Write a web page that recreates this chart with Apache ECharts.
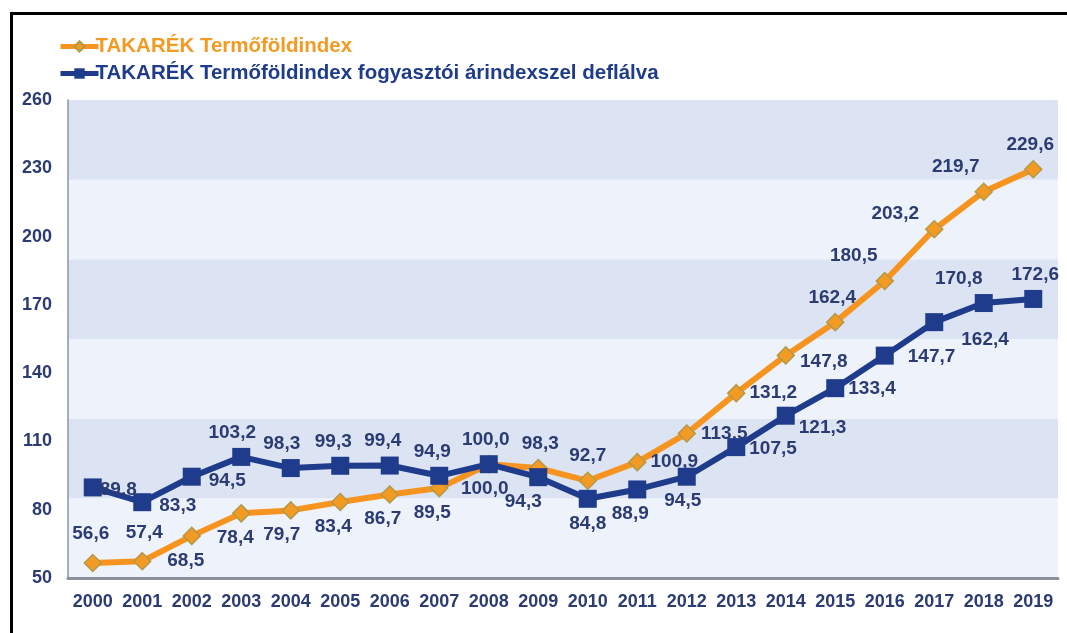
<!DOCTYPE html>
<html>
<head>
<meta charset="utf-8">
<script src="https://cdn.jsdelivr.net/npm/echarts@6/dist/echarts.min.js"></script>
<style>
html,body{margin:0;padding:0;background:#fff;}
#c{width:1067px;height:633px;}
</style>
</head>
<body>
<div id="c"></div>
<script>
// ---- data ----
var years = ['2000','2001','2002','2003','2004','2005','2006','2007','2008','2009','2010','2011','2012','2013','2014','2015','2016','2017','2018','2019'];
var nameIndex = 'TAKARÉK Termőföldindex';
var nameDeflated = 'TAKARÉK Termőföldindex fogyasztói árindexszel deflálva';
var indexValues = [56.6, 57.4, 68.5, 78.4, 79.7, 83.4, 86.7, 89.5, 100.0, 98.3, 92.7, 100.9, 113.5, 131.2, 147.8, 162.4, 180.5, 203.2, 219.7, 229.6];
var deflatedValues = [89.8, 83.3, 94.5, 103.2, 98.3, 99.3, 99.4, 94.9, 100.0, 94.3, 84.8, 88.9, 94.5, 107.5, 121.3, 133.4, 147.7, 162.4, 170.8, 172.6];
var yTicks = [50, 80, 110, 140, 170, 200, 230, 260];

// ---- label placement (style) ----
var indexLabelPos = ['top','top','bottom','bottom','bottom','bottom','bottom','bottom','bottom','top','top','right','right','right','right','top','top','left','top','top'];
var indexLabelOffset = [[-2,-4],[2,-4],[-6,0],[-6,0],[-9,0],[-7,0],[-7,0],[-7,0],[-4,0],[2,0],[0,0],[-2,0],[-1,0],[-2,0],[-1,6],[-3,0],[-31,0],[0,-16],[-28,0],[-3,0]];
var deflLabelPos = ['right','right','right','top','top','top','top','top','top','bottom','bottom','bottom','bottom','right','right','right','right','right','top','top'];
var deflLabelOffset = [[-8,2],[2,4],[2,4],[-9,0],[-9,0],[-7,0],[-7,0],[-7,0],[-3,0],[-15,0],[0,0],[-7,0],[-4,0],[-2,2],[-2,12],[-2,1],[8,1],[12,18],[-25,0],[2,0]];

function build(values, pos, off) {
  return values.map(function (v, i) {
    return { value: v, label: { position: pos[i], offset: off[i] } };
  });
}
function fmt(p) { return p.value.toFixed(1).replace('.', ','); }

var navyText = '#2b3b73';
var orange = '#f7941f';
var blue = '#1f3c8c';

var chart = echarts.init(document.getElementById('c'));
chart.setOption({
  animation: false,
  backgroundColor: '#ffffff',
  textStyle: { fontFamily: 'Liberation Sans, Arial, sans-serif' },
  graphic: [{
    type: 'rect', left: 9, top: 11, silent: true,
    shape: { width: 1080, height: 650 },
    style: { fill: 'none', stroke: '#000', lineWidth: 3 }
  }],
  legend: {
    orient: 'vertical', left: 53, top: 31, itemGap: 6,
    itemWidth: 38, itemHeight: 13,
    data: [nameIndex, nameDeflated],
    lineStyle: { width: 5 },
    textStyle: { fontSize: 20.5, fontWeight: 'bold', padding: [0, 0, 0, -8], color: 'inherit' }
  },
  grid: { left: 68, right: 9, top: 100, bottom: 55 },
  xAxis: {
    type: 'category', data: years, boundaryGap: true,
    axisLine: { show: true, lineStyle: { color: '#8a909c', width: 3 } },
    axisTick: { show: false },
    axisLabel: { color: navyText, fontSize: 18, fontWeight: 'bold', margin: 15, interval: 0 }
  },
  yAxis: [{
    type: 'value', min: 50, max: 260,
    axisLine: { show: true, lineStyle: { color: '#8a94a8', width: 1.5 } },
    axisTick: { show: false },
    splitLine: { show: false },
    axisLabel: { customValues: yTicks, color: navyText, fontSize: 18, fontWeight: 'bold', margin: 16 }
  }, {
    type: 'value', min: 0, max: 210, interval: 35, position: 'left',
    axisLine: { show: false }, axisTick: { show: false }, axisLabel: { show: false },
    splitLine: { show: false },
    splitArea: { show: true, areaStyle: { color: ['#eef2fa', '#dce3f2'] } }
  }],
  series: [{
    name: nameIndex, type: 'line', yAxisIndex: 0,
    data: build(indexValues, indexLabelPos, indexLabelOffset),
    symbol: 'diamond', symbolSize: 17,
    lineStyle: { color: orange, width: 6 },
    itemStyle: { color: '#f39a22', borderColor: '#b09a4a', borderWidth: 1.5 },
    label: { show: true, formatter: fmt, color: navyText, fontSize: 19, fontWeight: 'bold', distance: 6 },
    z: 2
  }, {
    name: nameDeflated, type: 'line', yAxisIndex: 0,
    data: build(deflatedValues, deflLabelPos, deflLabelOffset),
    symbol: 'rect', symbolSize: 18,
    lineStyle: { color: blue, width: 6 },
    itemStyle: { color: blue },
    label: { show: true, formatter: fmt, color: navyText, fontSize: 19, fontWeight: 'bold', distance: 6 },
    z: 3
  }]
});
</script>
</body>
</html>
